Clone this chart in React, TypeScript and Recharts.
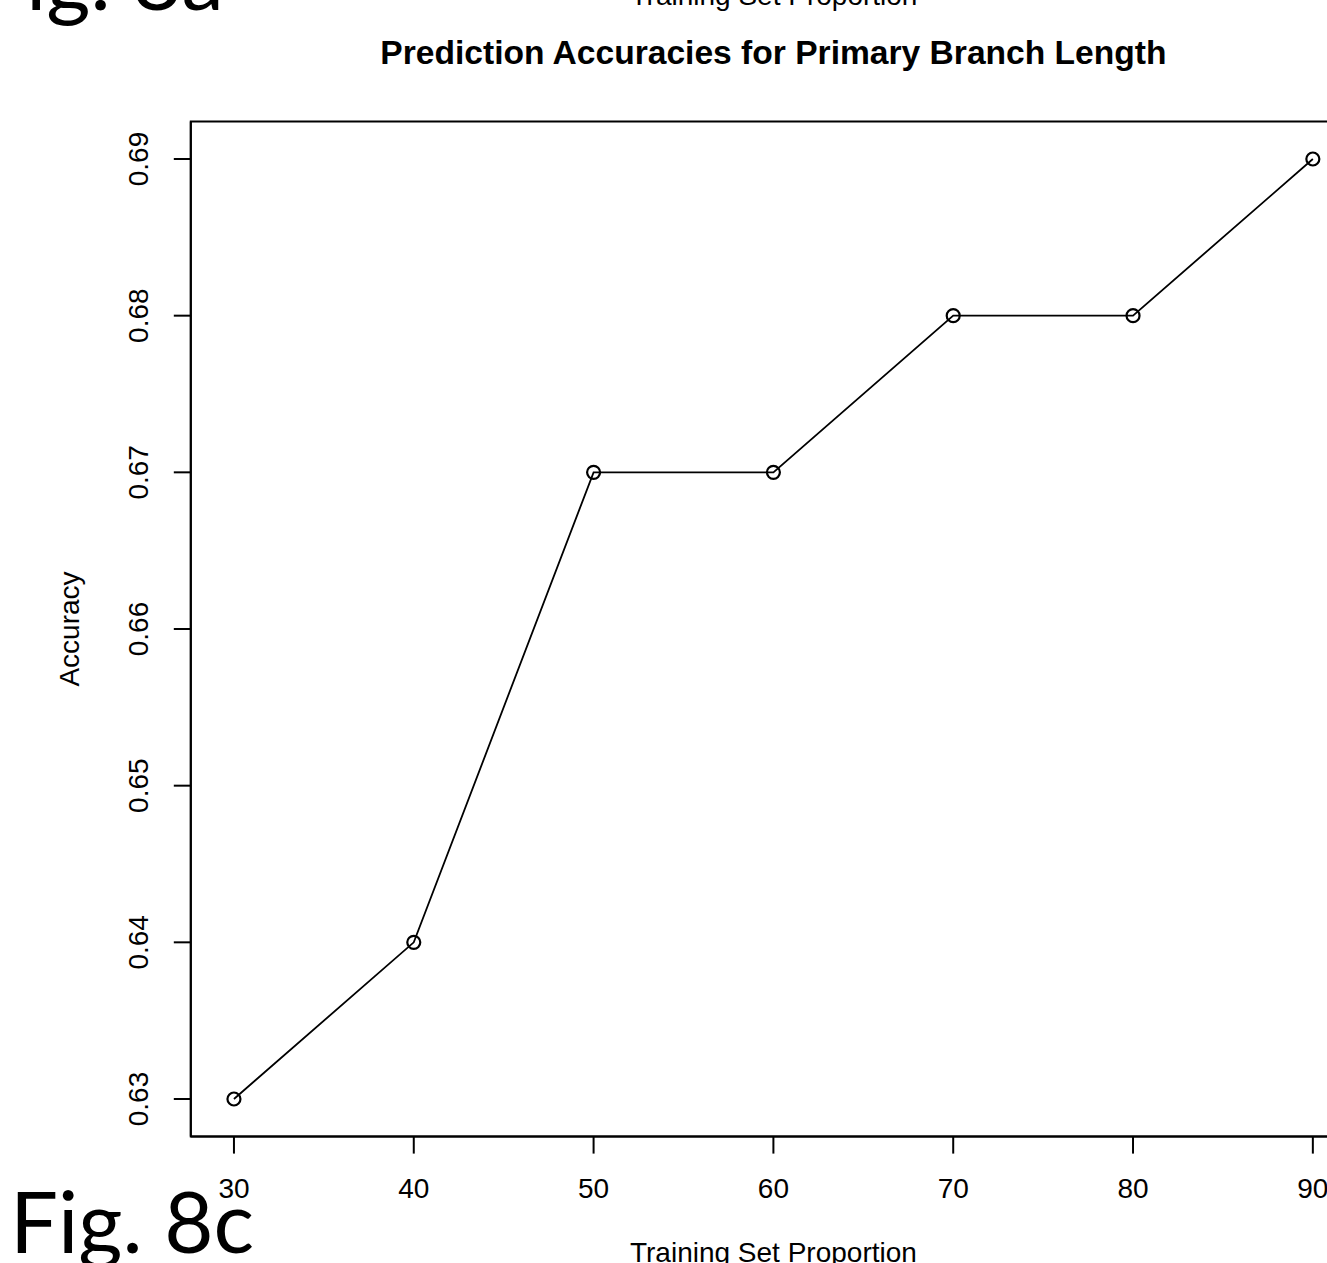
import React from "react";
import { LineChart, Line, XAxis, YAxis, ReferenceArea } from "recharts";

const proportions = [30, 40, 50, 60, 70, 80, 90];
const accuracies = [0.63, 0.64, 0.67, 0.67, 0.68, 0.68, 0.69];
const xTicks = [30, 40, 50, 60, 70, 80, 90];
const yTicks = [0.63, 0.64, 0.65, 0.66, 0.67, 0.68, 0.69];
const xDomain: [number, number] = [27.6, 92.4];
const yDomain: [number, number] = [0.6276, 0.6924];

const data = proportions.map((p, i) => ({ proportion: p, accuracy: accuracies[i] }));

const FONT = "'Liberation Sans', Arial, Helvetica, sans-serif";
const BASE = 28;

const XTick = (props: any) => {
  const { x, y, payload } = props;
  return (
    <text x={x} y={y} dy={42} textAnchor="middle" fontSize={BASE} fontFamily={FONT} fill="#000">
      {String(payload.value)}
    </text>
  );
};

const YTick = (props: any) => {
  const { x, y, payload } = props;
  return (
    <text
      transform={`translate(${x - 24},${y}) rotate(-90)`}
      textAnchor="middle"
      fontSize={BASE}
      fontFamily={FONT}
      fill="#000"
    >
      {Number(payload.value).toFixed(2)}
    </text>
  );
};

export default function App() {
  return (
    <div
      style={{
        position: "absolute",
        left: 0,
        top: 0,
        width: 1327,
        height: 1263,
        overflow: "hidden",
        background: "#fff",
      }}
    >
      <LineChart
        width={1400}
        height={1263}
        data={data}
        margin={{ top: 121.4, right: 44, bottom: 0, left: 0 }}
      >
        <XAxis
          type="number"
          dataKey="proportion"
          domain={xDomain}
          ticks={xTicks}
          allowDataOverflow
          height={126.4}
          tickSize={17}
          tickMargin={2}
          axisLine={{ stroke: "#000", strokeWidth: 2 }}
          tickLine={{ stroke: "#000", strokeWidth: 2 }}
          tick={<XTick />}
          interval={0}
        />
        <YAxis
          type="number"
          dataKey="accuracy"
          domain={yDomain}
          ticks={yTicks}
          allowDataOverflow
          width={190.8}
          tickSize={17}
          tickMargin={2}
          axisLine={{ stroke: "#000", strokeWidth: 2 }}
          tickLine={{ stroke: "#000", strokeWidth: 2 }}
          tick={<YTick />}
          interval={0}
        />
        <ReferenceArea
          x1={xDomain[0]}
          x2={xDomain[1]}
          y1={yDomain[0]}
          y2={yDomain[1]}
          fill="none"
          fillOpacity={0}
          stroke="#000"
          strokeWidth={2}
          ifOverflow="visible"
        />
        <Line
          type="linear"
          dataKey="accuracy"
          stroke="#000"
          strokeWidth={1.8}
          isAnimationActive={false}
          dot={{ r: 6.5, fill: "none", stroke: "#000", strokeWidth: 2.2 }}
          activeDot={false}
        />
      </LineChart>
      <svg
        width={1327}
        height={1263}
        style={{ position: "absolute", left: 0, top: 0, pointerEvents: "none" }}
      >
        <text x={-22} y={10} fontSize={85} fontFamily="Lato, 'Open Sans', sans-serif" fill="#000">
          Fig. 8a
        </text>
        <text x={774} y={5} textAnchor="middle" fontSize={BASE} fontFamily={FONT} fill="#000">
          Training Set Proportion
        </text>
        <text
          x={773.4}
          y={64}
          textAnchor="middle"
          fontSize={33.6}
          fontWeight="bold"
          fontFamily={FONT}
          fill="#000"
        >
          Prediction Accuracies for Primary Branch Length
        </text>
        <text
          transform="translate(79,629) rotate(-90)"
          textAnchor="middle"
          fontSize={BASE}
          fontFamily={FONT}
          fill="#000"
        >
          Accuracy
        </text>
        <text x={773.4} y={1262} textAnchor="middle" fontSize={BASE} fontFamily={FONT} fill="#000">
          Training Set Proportion
        </text>
        <text x={10} y={1253} fontSize={85} fontFamily="Lato, 'Open Sans', sans-serif" fill="#000">
          Fig. 8c
        </text>
      </svg>
    </div>
  );
}
